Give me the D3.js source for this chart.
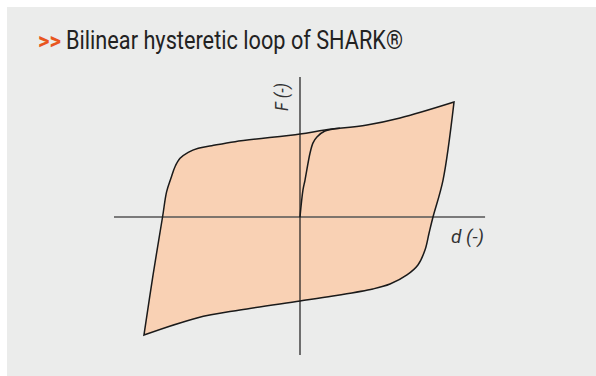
<!DOCTYPE html>
<html>
<head>
<meta charset="utf-8">
<script src="https://cdn.jsdelivr.net/npm/d3@7"></script>
<style>
  body { margin: 0; background: #fff; }
  svg { display: block; }
</style>
</head>
<body>
<div id="chart"></div>
<script>
// upper branch of the loop: bottom-left corner -> top-right corner (d, F)
const upperD = [-0.839, -0.790, -0.739, -0.717, -0.694, -0.672, -0.645, -0.601, -0.547, -0.475, -0.349, 0.000, 0.134, 0.360, 0.538, 0.828];
const upperF = [-0.843, -0.414, 0.000, 0.181, 0.276, 0.359, 0.419, 0.462, 0.491, 0.509, 0.538, 0.593, 0.621, 0.657, 0.707, 0.821];

// lower branch: top-right corner -> bottom-left corner
const lowerD = [0.828, 0.769, 0.715, 0.694, 0.672, 0.634, 0.575, 0.484, 0.392, 0.177, 0.000, -0.323, -0.554, -0.839];
const lowerF = [0.821, 0.264, 0.000, -0.114, -0.236, -0.343, -0.414, -0.479, -0.514, -0.564, -0.600, -0.664, -0.721, -0.843];

// first loading curve from the origin
const initD = [0.000, 0.016, 0.027, 0.054, 0.070, 0.091, 0.134, 0.215];
const initF = [0.000, 0.193, 0.264, 0.457, 0.529, 0.571, 0.614, 0.634];

const titleMark = ">>";
const titleText = "Bilinear hysteretic loop of SHARK®";
const xLabel = "d (-)";
const yLabel = "F (-)";

const width = 596;
const height = 376;

const svg = d3.select("#chart").append("svg")
  .attr("width", width)
  .attr("height", height);

// grey panel
svg.append("rect")
  .attr("x", 7).attr("y", 7)
  .attr("width", width - 7).attr("height", height - 7)
  .attr("fill", "#ebeceb");

// title
svg.append("text")
  .attr("x", 38).attr("y", 49)
  .attr("font-family", "Roboto, sans-serif")
  .attr("font-weight", 700)
  .attr("font-size", 23)
  .attr("fill", "#e8561e")
  .attr("textLength", 23)
  .attr("lengthAdjust", "spacingAndGlyphs")
  .text(titleMark);

svg.append("text")
  .attr("x", 66).attr("y", 49)
  .attr("font-family", "Roboto, sans-serif")
  .attr("font-weight", 400)
  .attr("font-size", 26)
  .attr("fill", "#222")
  .attr("textLength", 337)
  .attr("lengthAdjust", "spacingAndGlyphs")
  .text(titleText);

// scales: origin at (300, 217)
const x = d3.scaleLinear().domain([-1, 1]).range([114, 486]);
const y = d3.scaleLinear().domain([-1, 1]).range([357, 77]);

const upper = upperD.map((d, i) => [d, upperF[i]]);
const lower = lowerD.map((d, i) => [d, lowerF[i]]);
const init = initD.map((d, i) => [d, initF[i]]);

const line = d3.line()
  .x(d => x(d[0]))
  .y(d => y(d[1]))
  .curve(d3.curveCatmullRom.alpha(0.5));

const loopPath = line(upper) + "L" + line(lower).slice(1) + "Z";

svg.append("path")
  .attr("d", loopPath)
  .attr("fill", "#f9d1b4")
  .attr("stroke", "none");

// axes
svg.append("line")
  .attr("x1", x(-1)).attr("x2", x(0.995))
  .attr("y1", y(0)).attr("y2", y(0))
  .attr("stroke", "#555")
  .attr("stroke-width", 1.3);

svg.append("line")
  .attr("x1", x(0)).attr("x2", x(0))
  .attr("y1", y(1)).attr("y2", y(-0.986))
  .attr("stroke", "#1a1a1a")
  .attr("stroke-width", 1.2);

// loop outline and initial curve
svg.append("path")
  .attr("d", loopPath)
  .attr("fill", "none")
  .attr("stroke", "#1a1a1a")
  .attr("stroke-width", 1.5)
  .attr("stroke-linejoin", "miter");

svg.append("path")
  .attr("d", line(init))
  .attr("fill", "none")
  .attr("stroke", "#1a1a1a")
  .attr("stroke-width", 1.5);

// axis labels
svg.append("text")
  .attr("x", 451).attr("y", 243)
  .attr("font-family", "Roboto, sans-serif")
  .attr("font-style", "italic")
  .attr("font-weight", 400)
  .attr("font-size", 19)
  .attr("fill", "#333")
  .attr("textLength", 33)
  .attr("lengthAdjust", "spacingAndGlyphs")
  .text(xLabel);

svg.append("text")
  .attr("transform", "translate(288,111) rotate(-90)")
  .attr("font-family", "Roboto, sans-serif")
  .attr("font-style", "italic")
  .attr("font-weight", 400)
  .attr("font-size", 19)
  .attr("fill", "#333")
  .attr("textLength", 28)
  .attr("lengthAdjust", "spacingAndGlyphs")
  .text(yLabel);
</script>
</body>
</html>
